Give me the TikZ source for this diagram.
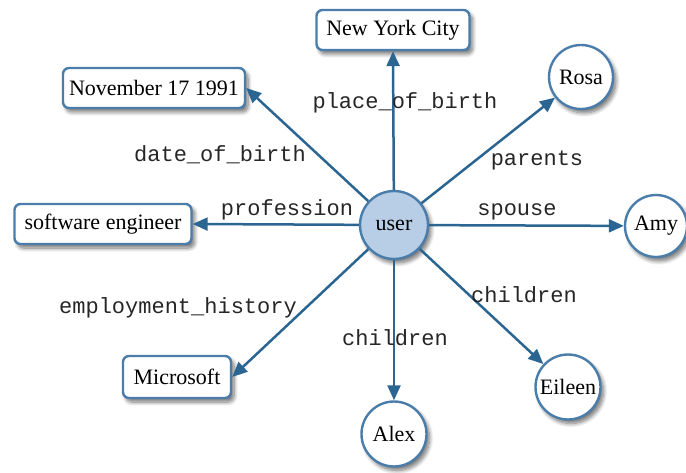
\documentclass[tikz,border=0pt]{standalone}
\usepackage{fontspec}
\setmainfont{Liberation Serif}
\setmonofont{Liberation Mono}
\usetikzlibrary{arrows.meta,shadows.blur}

\definecolor{edgeblue}{HTML}{2B6592}
\definecolor{rimblue}{HTML}{4A7DAA}
\definecolor{userfill}{HTML}{B8CDE6}

\begin{document}
\begin{tikzpicture}[x=1pt,y=-1pt,
  ent/.style={draw=rimblue, line width=2.4pt, fill=white,
    blur shadow={shadow xshift=3pt, shadow yshift=-4pt, shadow blur steps=8,
      shadow blur radius=4pt, shadow opacity=55},
    font=\fontsize{22}{25}\selectfont},
  valbox/.style={ent, rounded corners=6pt, minimum height=40pt, inner sep=0pt},
  valcirc/.style={ent, circle, inner sep=0pt, minimum size=64pt},
  rel/.style={draw=edgeblue, line width=2.5pt, -{Triangle[length=15pt,width=13pt]}},
  lab/.style={font=\ttfamily\fontsize{22}{24}\selectfont, text=black!85, inner sep=0pt}
]
\useasboundingbox (0,0) rectangle (686,473);

% central entity
\node[valcirc, fill=userfill, minimum size=68pt] (user) at (394,225) {user};

% attribute values
\node[valbox, minimum width=153pt] (nyc) at (393,30) {New York City};
\node[valbox, minimum width=182pt] (nov) at (154,88) {November 17 1991};
\node[valbox, minimum width=177pt] (sw) at (103,224) {software engineer};
\node[valbox, minimum width=108pt, minimum height=42pt] (ms) at (177,377) {Microsoft};

% related people
\node[valcirc] (rosa) at (581,77) {Rosa};
\node[valcirc, minimum size=62pt] (amy) at (656,226) {Amy};
\node[valcirc, minimum size=65pt] (eileen) at (568,387) {Eileen};
\node[valcirc, minimum size=65pt] (alex) at (394,434) {Alex};

% relations
\draw[rel] (user) -- (nyc.south);
\draw[rel] (user) -- (nov.east);
\draw[rel] (user) -- (sw.east);
\draw[rel] (user) -- (ms.east);
\draw[rel] (user) -- (rosa);
\draw[rel] (user) -- (amy);
\draw[rel] (user) -- (eileen);
\draw[rel] (user) -- (alex);

% relation labels
\node[lab] (lpob) at (405,103) {place\_of\_birth};
\node[lab] (ldob) at (220,155) {date\_of\_birth};
\node[lab] (lpar) at (537,160) {parents};
\node[lab] (lprof) at (287,210) {profession};
\node[lab] (lsp) at (517,212) {spouse};
\node[lab] (lemp) at (178,308) {employment\_history};
\node[lab] (lch1) at (524,295) {children};
\node[lab] (lch2) at (395,338) {children};
\end{tikzpicture}
\end{document}
